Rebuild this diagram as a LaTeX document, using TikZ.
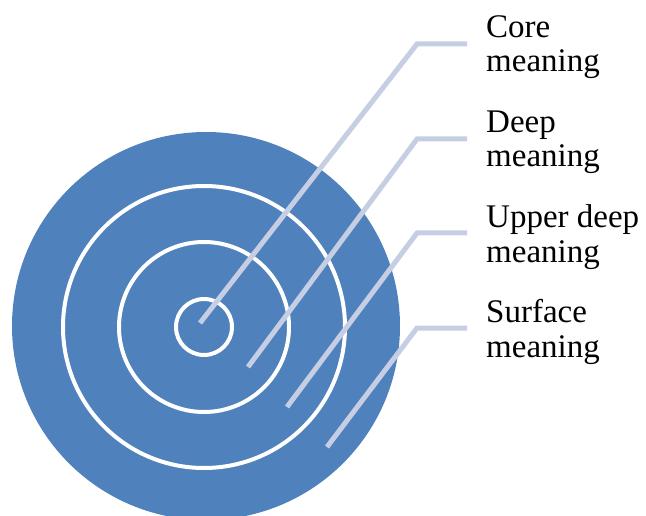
\documentclass[tikz,border=0pt]{standalone}
\usepackage{fontspec}
\setmainfont{Liberation Serif}
\begin{document}
\definecolor{ringblue}{RGB}{79,129,189}
\definecolor{leader}{RGB}{197,206,226}
\begin{tikzpicture}[x=1pt,y=-1pt,
  ring/.style={draw=white,line width=4pt},
  leaderline/.style={draw=leader,line width=5pt},
  lbl/.style={anchor=base west,inner sep=0pt,font=\fontsize{33}{34}\selectfont}]
\useasboundingbox (0,0) rectangle (646,516);
\begin{scope}
\clip (0,0) rectangle (646,516);
% target disc and its rings
\fill[ringblue] (206,326) circle (194);
\draw[ring] (204,327) circle (141);
\draw[ring] (204,327) circle (85);
\draw[ring] (204,327) circle (28);
\end{scope}
% labels
\node[lbl] (core)  at (486,38)  {Core};
\node[lbl] (core2) at (486,72)  {meaning};
\node[lbl] (deep)  at (486,133) {Deep};
\node[lbl] (deep2) at (486,167) {meaning};
\node[lbl] (upper) at (486,228) {Upper deep};
\node[lbl] (upper2) at (486,262) {meaning};
\node[lbl] (surf)  at (486,323) {Surface};
\node[lbl] (surf2) at (486,357) {meaning};
% leader end points
\coordinate (c0) at (200,323); \coordinate (c1) at (417,44);  \coordinate (c2) at (467,44);
\coordinate (d0) at (248,367); \coordinate (d1) at (417,139); \coordinate (d2) at (467,139);
\coordinate (u0) at (287,407); \coordinate (u1) at (417,233); \coordinate (u2) at (467,233);
\coordinate (s0) at (327,447); \coordinate (s1) at (417,328); \coordinate (s2) at (467,328);
\draw[leaderline] (c0) -- (c1) -- (c2);
\draw[leaderline] (d0) -- (d1) -- (d2);
\draw[leaderline] (u0) -- (u1) -- (u2);
\draw[leaderline] (s0) -- (s1) -- (s2);
\end{tikzpicture}
\end{document}
